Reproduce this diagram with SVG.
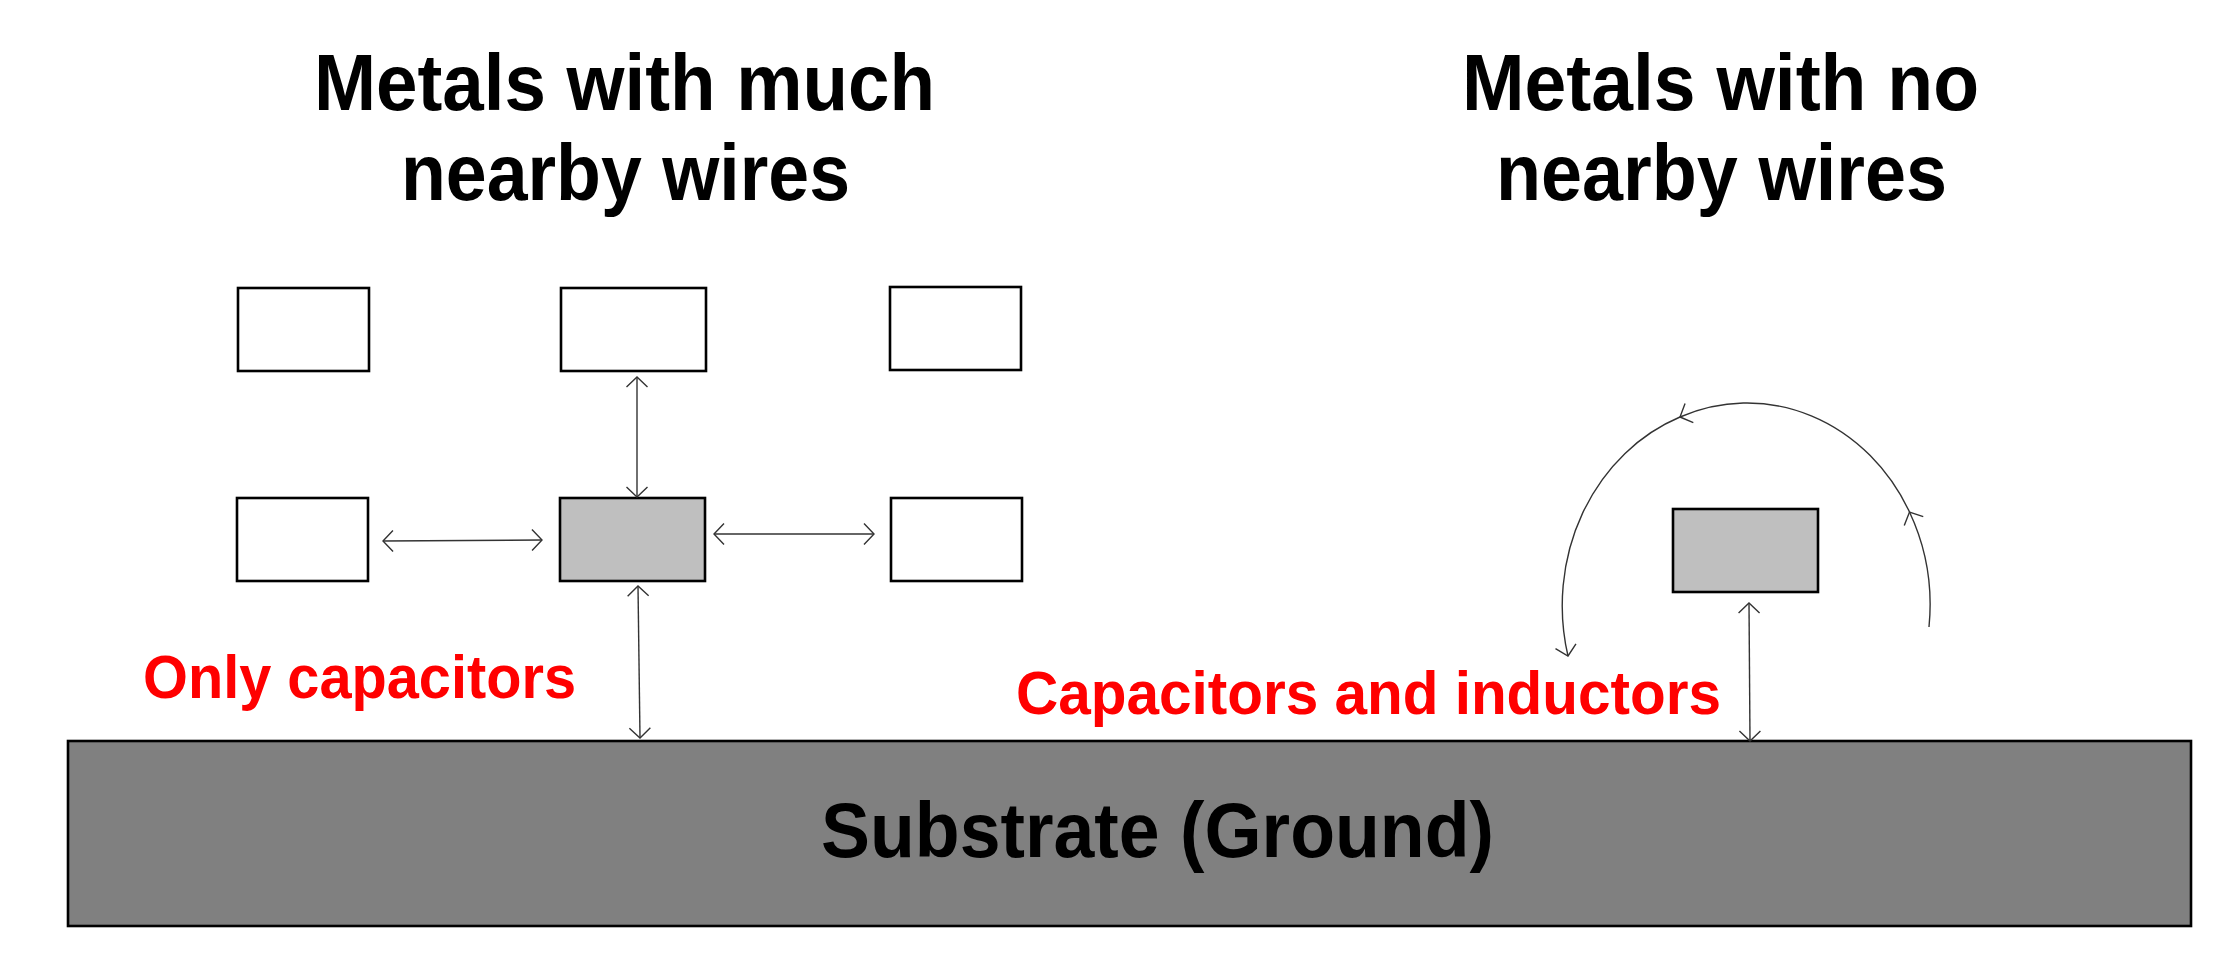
<svg xmlns="http://www.w3.org/2000/svg" width="2237" height="971" viewBox="0 0 2237 971">
<style>
.title{font-family:"Liberation Sans",Arial,sans-serif;font-weight:bold;font-size:80px;fill:#000}
.red{font-family:"Liberation Sans",Arial,sans-serif;font-weight:bold;font-size:61px;fill:#ff0000}
.sub{font-family:"Liberation Sans",Arial,sans-serif;font-weight:bold;font-size:77px;fill:#000}
.box{fill:#ffffff;stroke:#000;stroke-width:2.6}
.metal{fill:#bfbfbf;stroke:#000;stroke-width:2.6}
.conn{fill:none;stroke:#333;stroke-width:1.4}
</style>
<defs>
<marker id="arr" viewBox="-12 -12 14 24" markerWidth="14" markerHeight="24" refX="0" refY="0" orient="auto-start-reverse" markerUnits="userSpaceOnUse">
<path d="M -10 -10.5 L 0 0 L -10 10.5" fill="none" stroke="#333" stroke-width="1.4"/>
</marker>
</defs>
<rect width="2237" height="971" fill="#ffffff"/>
<g id="title-left">
<text class="title" x="314" y="110" textLength="621" lengthAdjust="spacingAndGlyphs">Metals with much</text>
<text class="title" x="401" y="200" textLength="449" lengthAdjust="spacingAndGlyphs">nearby wires</text>
</g>
<g id="title-right">
<text class="title" x="1462" y="110" textLength="517" lengthAdjust="spacingAndGlyphs">Metals with no</text>
<text class="title" x="1496" y="200" textLength="451" lengthAdjust="spacingAndGlyphs">nearby wires</text>
</g>
<g id="substrate">
<rect x="68" y="741" width="2123" height="185" fill="#808080" stroke="#000" stroke-width="2.6"/>
<text class="sub" x="821" y="857" textLength="673" lengthAdjust="spacingAndGlyphs">Substrate (Ground)</text>
</g>
<g id="wire-top-left"><rect class="box" x="238" y="288" width="131" height="83"/></g>
<g id="wire-top-mid"><rect class="box" x="561" y="288" width="145" height="83"/></g>
<g id="wire-top-right"><rect class="box" x="890" y="287" width="131" height="83"/></g>
<g id="wire-mid-left"><rect class="box" x="237" y="498" width="131" height="83"/></g>
<g id="metal-center"><rect class="metal" x="560" y="498" width="145" height="83"/></g>
<g id="wire-mid-right"><rect class="box" x="891" y="498" width="131" height="83"/></g>
<g id="metal-isolated"><rect class="metal" x="1673" y="509" width="145" height="83"/></g>
<g id="label-left"><text class="red" x="143" y="698" textLength="433" lengthAdjust="spacingAndGlyphs">Only capacitors</text></g>
<g id="label-right"><text class="red" x="1016" y="714" textLength="705" lengthAdjust="spacingAndGlyphs">Capacitors and inductors</text></g>
<g id="connectors">
<line class="conn" x1="637" y1="377" x2="637" y2="497" marker-start="url(#arr)" marker-end="url(#arr)"/>
<line class="conn" x1="383" y1="541" x2="542" y2="540" marker-start="url(#arr)" marker-end="url(#arr)"/>
<line class="conn" x1="714" y1="534" x2="874" y2="534" marker-start="url(#arr)" marker-end="url(#arr)"/>
<line class="conn" x1="638" y1="586" x2="640" y2="738" marker-start="url(#arr)" marker-end="url(#arr)"/>
<line class="conn" x1="1749" y1="603" x2="1750" y2="741" marker-start="url(#arr)" marker-end="url(#arr)"/>
<path class="conn" d="M 1929 627 A 183 202 0 0 0 1909.5 512 A 183 202 0 0 0 1680 417 A 183 202 0 0 0 1568 656" marker-mid="url(#arr)" marker-end="url(#arr)"/>
</g>
</svg>
